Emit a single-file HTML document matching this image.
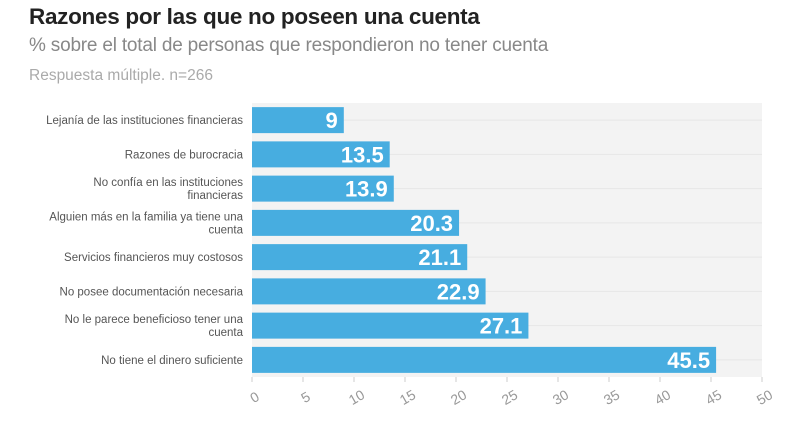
<!DOCTYPE html>
<html><head><meta charset="utf-8"><style>
body{margin:0;background:#fff;font-family:"Liberation Sans",sans-serif;}
#wrap{position:relative;width:800px;height:421px;overflow:hidden}
.t{position:absolute;left:29px;white-space:nowrap}
</style></head><body><div id="wrap">
<div class="t" style="top:4px;font-size:22.5px;font-weight:bold;color:#222;letter-spacing:-0.3px">Razones por las que no poseen una cuenta</div>
<div class="t" style="top:35px;font-size:19px;color:#888;letter-spacing:-0.2px">% sobre el total de personas que respondieron no tener cuenta</div>
<div class="t" style="top:67px;font-size:15.5px;color:#aaa">Respuesta múltiple. n=266</div>
<svg id="svg" width="800" height="421" style="position:absolute;left:0;top:0"></svg>
</div>
<script>
const categories=[["Lejanía de las instituciones financieras"],["Razones de burocracia"],["No confía en las instituciones","financieras"],["Alguien más en la familia ya tiene una","cuenta"],["Servicios financieros muy costosos"],["No posee documentación necesaria"],["No le parece beneficioso tener una","cuenta"],["No tiene el dinero suficiente"]];
const values=[9,13.5,13.9,20.3,21.1,22.9,27.1,45.5];
const ticks=[0,5,10,15,20,25,30,35,40,45,50];
const NS="http://www.w3.org/2000/svg";
const svg=document.getElementById('svg');
const x0=252,x1=762,yTop=103,yBot=377;
const xs=v=>x0+(v-0)/(50-0)*(x1-x0);
const band=(yBot-yTop)/categories.length;
const yc=i=>yTop+band*(i+0.5);
function mk(t,a){const e=document.createElementNS(NS,t);for(const k in a)e.setAttribute(k,a[k]);svg.appendChild(e);return e;}
const bg=mk('rect',{x:x0,y:yTop,width:x1-x0,height:yBot-yTop,fill:'#f3f3f3'});


categories.forEach((c,i)=>{
 const y=yc(i);
 const g=mk('line',{x1:x0,x2:x1,y1:y,y2:y,stroke:'#e6e6e6'});
 
 
 const r=mk('rect',{x:x0,y:y-13,width:xs(values[i])-x0,height:26,fill:'#47ade0'});
 
 
 const v=mk('text',{x:xs(values[i])-6,y:y+8,'text-anchor':'end','font-size':22,'font-weight':'bold',fill:'#fff'});
 v.textContent=values[i];
 
 
 const l=mk('text',{x:243,'text-anchor':'end','font-size':11.5,fill:'#555'});
 
 
 c.forEach((s,j)=>{const ts=document.createElementNS(NS,'tspan');ts.setAttribute('x',243);ts.setAttribute('y',y+4+(j-(c.length-1)/2)*13);ts.textContent=s;l.appendChild(ts);});
});
ticks.forEach(t=>{
 const x=xs(t);
 const tk=mk('line',{x1:x,x2:x,y1:yBot,y2:yBot+5,stroke:'#ccc'});
 
 
 const tx=mk('text',{x:x+3,y:yBot+25,'text-anchor':'middle','font-size':14,fill:'#999',transform:`rotate(-30 ${x+3} ${yBot+21})`});
 tx.textContent=t;
 
 
});
</script></body></html>
